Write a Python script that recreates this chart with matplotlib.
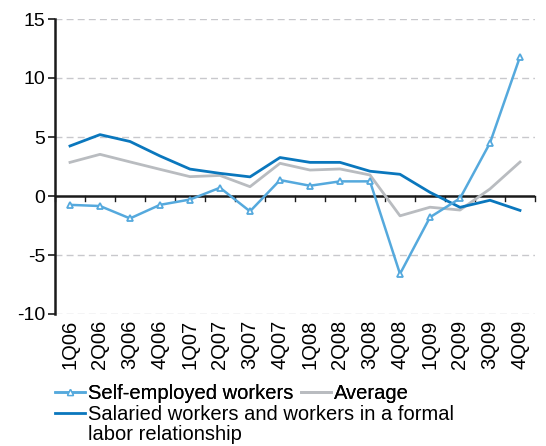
import matplotlib
matplotlib.use("Agg")
import matplotlib.pyplot as plt
from matplotlib.lines import Line2D

plt.rcParams['font.family'] = ['Liberation Sans', 'DejaVu Sans']

quarters = ["1Q06", "2Q06", "3Q06", "4Q06", "1Q07", "2Q07", "3Q07", "4Q07",
            "1Q08", "2Q08", "3Q08", "4Q08", "1Q09", "2Q09", "3Q09", "4Q09"]
self_employed = [-0.75, -0.85, -1.9, -0.75, -0.3, 0.7, -1.3, 1.35,
                 0.87, 1.24, 1.24, -6.6, -1.8, -0.2, 4.5, 11.8]
salaried = [4.24, 5.2, 4.62, 3.39, 2.28, 1.92, 1.62, 3.26,
            2.85, 2.85, 2.1, 1.84, 0.31, -0.96, -0.36, -1.22]
average = [2.85, 3.53, 2.89, 2.26, 1.64, 1.74, 0.79, 2.77,
           2.2, 2.29, 1.78, -1.68, -0.95, -1.19, 0.6, 2.88]
y_ticks = [-10, -5, 0, 5, 10, 15]
sal_label_1 = "Salaried workers and workers in a formal"
sal_label_2 = "labor relationship"

c_self = "#55A9DD"
c_sal = "#0A77BD"
c_avg = "#B9BCC0"
fs = 14.5

fig = plt.figure(figsize=(5.46, 4.46), dpi=100)
ax = fig.add_axes([55 / 546, 1 - 314 / 446, 480 / 546, 295 / 446])

x = list(range(len(quarters)))
ax.plot(x, average, color=c_avg, lw=2.0, zorder=3)
ax.plot(x, salaried, color=c_sal, lw=2.0, zorder=4)
ax.plot(x, self_employed, color=c_self, lw=1.8, marker="^", ms=5,
        mfc="white", mec=c_self, mew=1.3, zorder=5)

ax.set_xlim(-0.5, len(quarters) - 0.5)
ax.set_ylim(-10, 15)
ax.set_yticks(y_ticks)
ax.set_yticklabels([str(v) for v in y_ticks], fontsize=14)

# dashed gridlines and the zero axis line with category-boundary ticks
for v in y_ticks:
    if v != 0:
        ax.axhline(v, color="#C8C8CC", lw=1.0, ls=(0, (5, 3)), zorder=1)
ax.axhline(0, color="#1a1a1a", lw=1.8, zorder=2)
for b in range(len(quarters) + 1):
    ax.plot([b - 0.5, b - 0.5], [0, -0.45], color="#1a1a1a", lw=1.0,
            zorder=2, clip_on=False)

for s in ["top", "right", "bottom"]:
    ax.spines[s].set_visible(False)
ax.spines["left"].set_linewidth(1.8)
ax.spines["left"].set_color("#1a1a1a")
ax.tick_params(axis="y", direction="out", length=5, width=1.2, pad=2,
               color="#1a1a1a")

ax.set_xticks(x)
ax.set_xticklabels(quarters, rotation=90, fontsize=fs)
ax.tick_params(axis="x", length=0, pad=4)

# legend rows below the plot
h_self = Line2D([], [], color=c_self, lw=1.8, marker="^", ms=4,
                mfc="white", mec=c_self, mew=1.0)
h_avg = Line2D([], [], color=c_avg, lw=2.0)
h_sal = Line2D([], [], color=c_sal, lw=2.0)

common = dict(loc="upper left", frameon=False, fontsize=fs, handlelength=1.5,
              handletextpad=0.15, borderpad=0, borderaxespad=0)
leg1 = fig.legend([h_self, h_avg], ["Self-employed workers", "Average"],
                  bbox_to_anchor=(55 / 546, 1 - 384 / 446), ncol=2,
                  columnspacing=0.35, **common)
leg2 = fig.legend([h_sal], [sal_label_1],
                  bbox_to_anchor=(55 / 546, 1 - 405 / 446), **common)
fig.add_artist(leg1)

# continuation line of the multi-line legend label
fig.canvas.draw()
t_ext = leg2.get_texts()[0].get_window_extent()
x0 = t_ext.x0 / fig.bbox.width
fig.text(x0, 1 - 435 / 446, sal_label_2, fontsize=fs, ha="left", va="center")

fig.savefig("out.png", dpi=100)
